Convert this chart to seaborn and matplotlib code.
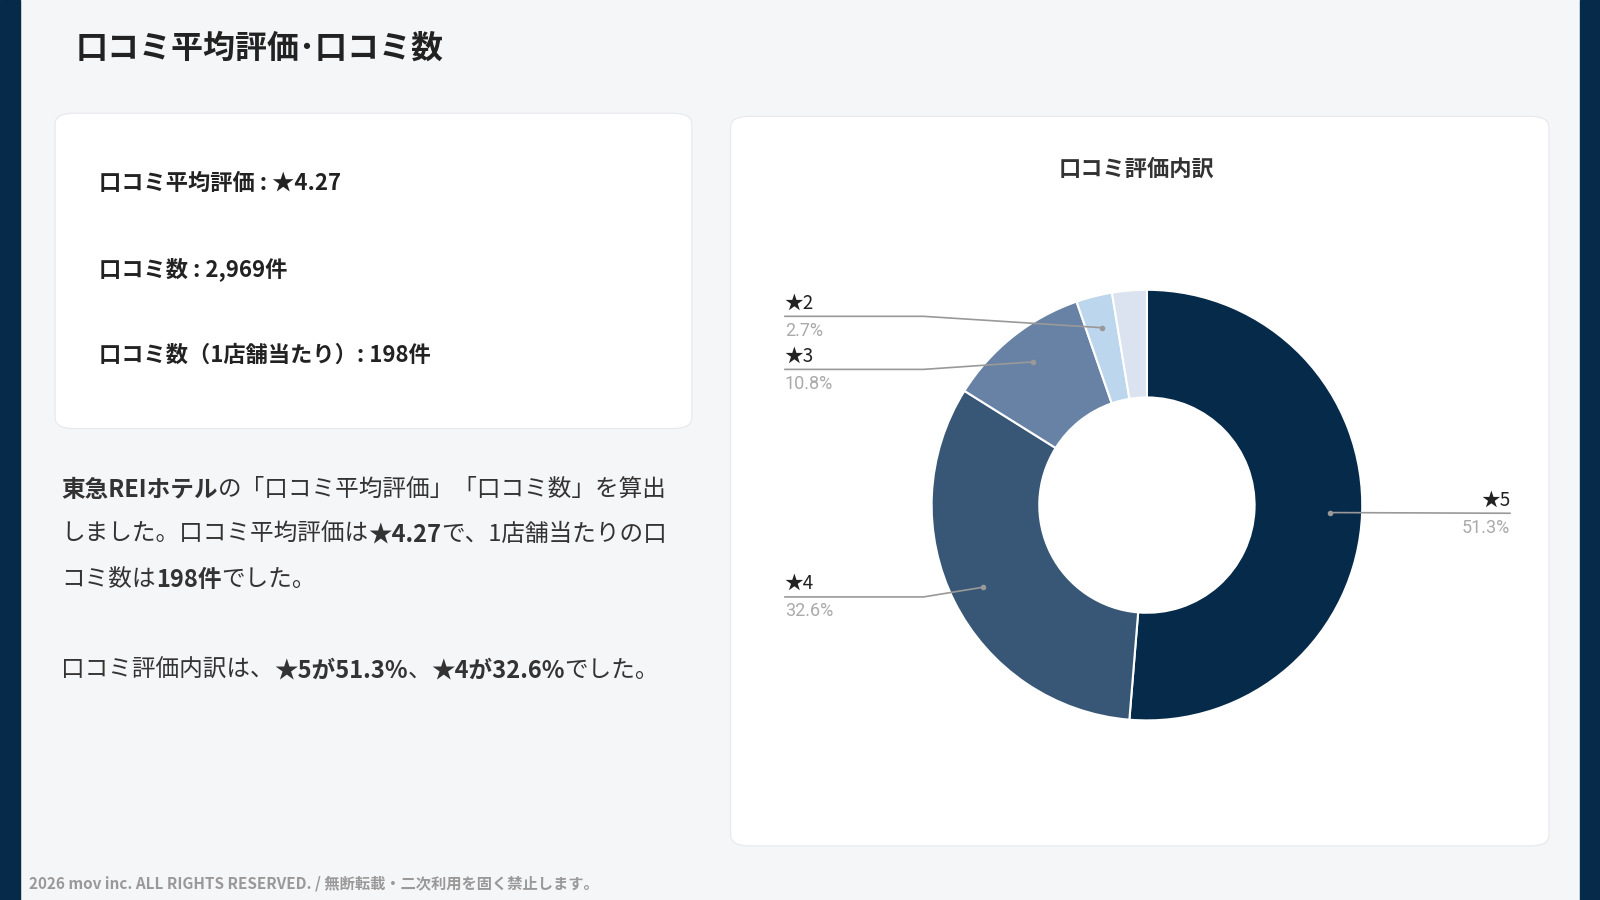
import numpy as np
import matplotlib
matplotlib.use("Agg")
import matplotlib.pyplot as plt
from matplotlib.patches import FancyBboxPatch, Rectangle
import seaborn as sns

sns.set_theme(style="white")
plt.rcParams['font.family'] = ['Noto Sans CJK JP', 'DejaVu Sans']

labels = ["★5", "★4", "★3", "★2", "★1"]
shares = [51.3, 32.6, 10.8, 2.7, 2.6]
colors = ["#062a4a", "#385776", "#6882a6", "#bcd6ee", "#dae3ef"]
shown = ["★5", "★4", "★3", "★2"]

W, H = 1600, 900
fig = plt.figure(figsize=(16, 9), dpi=100)
fig.patch.set_facecolor("#f5f6f8")
S = W / 1568.0

def fx(x): return x * S / W
def fy(y): return 1 - y * S / H

# side bars
fig.add_artist(Rectangle((0, 0), fx(20), 1, transform=fig.transFigure, color="#062a4a", zorder=-10))
fig.add_artist(Rectangle((fx(1548), 0), 1, 1, transform=fig.transFigure, color="#062a4a", zorder=-10))

def card(x0, y0, x1, y1):
    fig.add_artist(FancyBboxPatch((fx(x0), fy(y1)), fx(x1) - fx(x0), fy(y0) - fy(y1),
                   boxstyle="round,pad=0,rounding_size=0.012", transform=fig.transFigure,
                   fc="white", ec="#e6e8ec", lw=0.8, zorder=-5))
card(54, 111, 678, 420)
card(716, 114, 1518, 829)

fig.text(fx(74), fy(48), "口コミ平均評価･口コミ数", fontsize=23, weight="bold", color="#222", va="center")

renderer = fig.canvas.get_renderer()
def rich(x, y, parts, size, color="#333"):
    xf = fx(x)
    for s, b in parts:
        t = fig.text(xf, fy(y), s, fontsize=size, weight="bold" if b else "normal", color=color, va="center")
        bb = t.get_window_extent(renderer=renderer)
        xf += bb.width / W

for y, s in [(180, "口コミ平均評価 : ★4.27"), (264, "口コミ数 : 2,969件"), (348, "口コミ数（1店舗当たり）: 198件")]:
    fig.text(fx(97), fy(y), s, fontsize=16, weight="bold", color="#222", va="center")

FS = 17
rich(60, 480, [("東急REIホテル", True), ("の「口コミ平均評価」「口コミ数」を算出", False)], FS)
rich(60, 524, [("しました。口コミ平均評価は", False), ("★4.27", True), ("で、1店舗当たりの口", False)], FS)
rich(60, 568, [("コミ数は", False), ("198件", True), ("でした。", False)], FS)
rich(60, 657, [("口コミ評価内訳は、", False), ("★5が51.3%", True), ("、", False), ("★4が32.6%", True), ("でした。", False)], FS)

fig.text(fx(28), fy(866), "2026 mov inc. ALL RIGHTS RESERVED. / 無断転載・二次利用を固く禁止します。",
         fontsize=11, color="#999", weight="bold", va="center")

fig.text(fx(1114), fy(166), "口コミ評価内訳", fontsize=16, weight="bold", color="#333", ha="center", va="center")

# donut
cx, cy, R = 1124, 495, 211
ax = fig.add_axes([fx(cx - R), fy(cy + R), fx(2 * R), fy(cy - R) - fy(cy + R)])
ax.patch.set_alpha(0)
wedges, _ = ax.pie(shares, colors=colors, startangle=90, counterclock=False,
                   wedgeprops=dict(width=0.5, edgecolor="white", linewidth=1.5), radius=1)
ax.set_aspect("equal")
ax.set_xlim(-1, 1); ax.set_ylim(-1, 1)
ax.axis("off")

lab_pos = {"★5": (1480, 503, "r"), "★4": (769, 585, "l"), "★3": (769, 362, "l"), "★2": (769, 310, "l")}
for w, lab, sh in zip(wedges, labels, shares):
    if lab not in shown:
        continue
    ang = np.deg2rad((w.theta1 + w.theta2) / 2)
    r = 0.85
    px = cx + R * r * np.cos(ang)
    py = cy - R * r * np.sin(ang)
    lx, ly, side = lab_pos[lab]
    if side == "l":
        kx = 905
        xs, ys = [fx(lx), fx(kx), fx(px)], [fy(ly), fy(ly), fy(py)]
        ha = "left"
    else:
        xs, ys = [fx(px), fx(lx)], [fy(py), fy(ly)]
        ha = "right"
    fig.add_artist(plt.Line2D(xs, ys, transform=fig.transFigure, color="#999", lw=1.2, zorder=5))
    fig.text(fx(lx), fy(ly - 13), lab, fontsize=13.5, color="#222", va="center", ha=ha)
    fig.text(fx(lx), fy(ly + 14), f"{sh}%", fontsize=13, color="#aaa", va="center", ha=ha, family="Roboto")
    fig.add_artist(plt.Line2D([fx(px)], [fy(py)], marker="o", ms=3, color="#999",
                              transform=fig.transFigure, zorder=6))

fig.savefig("out.png", dpi=100, facecolor=fig.get_facecolor())
